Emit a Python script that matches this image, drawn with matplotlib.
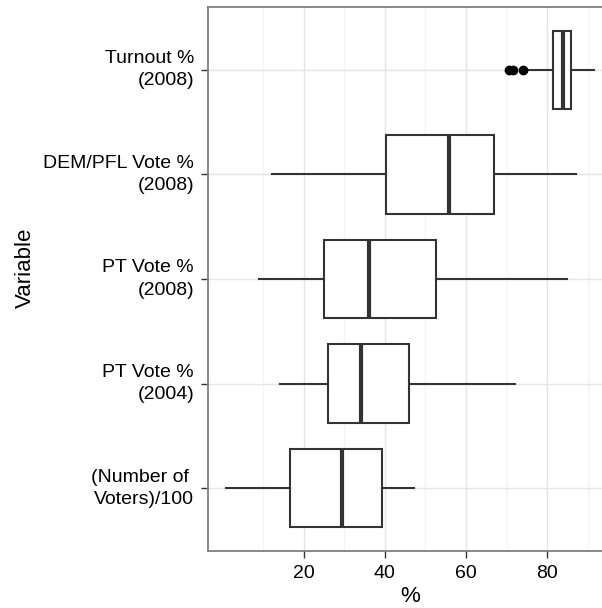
import matplotlib
matplotlib.use("Agg")
import matplotlib.pyplot as plt

categories = ["(Number of \nVoters)/100", "PT Vote %\n(2004)", "PT Vote %\n(2008)",
              "DEM/PFL Vote %\n(2008)", "Turnout %\n(2008)"]
q1 = [16.5, 26.0, 25.0, 40.2, 81.4]
med = [29.5, 34.0, 36.0, 55.7, 83.8]
q3 = [39.3, 45.9, 52.7, 66.8, 85.9]
whislo = [0.9, 14.1, 8.9, 12.1, 75.1]
whishi = [47.2, 72.1, 84.8, 87.2, 91.5]
fliers = [[], [], [], [], [70.7, 71.7, 74.1]]
xticks = [20, 40, 60, 80]

plt.rcParams['font.family'] = ['Liberation Sans', 'DejaVu Sans']

fig = plt.figure(figsize=(6.02, 6.08), dpi=100)
W, H = 602, 608
ax = fig.add_axes([208 / W, 1 - 551 / H, (612 - 208) / W, (551 - 7) / H])

stats = []
for i in range(len(categories)):
    stats.append(dict(q1=q1[i], med=med[i], q3=q3[i], whislo=whislo[i],
                      whishi=whishi[i], fliers=fliers[i], label=categories[i]))

dark = "#333333"
ax.bxp(stats, positions=range(1, 6), vert=False, widths=0.75, showcaps=False,
       patch_artist=True,
       boxprops=dict(facecolor="white", edgecolor=dark, linewidth=1.5),
       medianprops=dict(color=dark, linewidth=3.0, solid_capstyle="butt"),
       whiskerprops=dict(color=dark, linewidth=1.5),
       flierprops=dict(marker="o", markerfacecolor="black", markeredgecolor="black",
                       markersize=6),
       zorder=3)

ax.set_xlim(-3.6, 96.0)
ax.set_ylim(0.4, 5.6)
ax.set_xticks(xticks)
ax.set_xticks([10, 30, 50, 70, 90], minor=True)
ax.set_yticks(range(1, 6))
ax.set_yticklabels(categories, ha="right", va="center", linespacing=1.4)
ax.tick_params(axis="both", which="major", labelsize=14, length=5, width=1.0,
               color=dark, labelcolor="black", pad=5)
ax.tick_params(axis="x", which="minor", length=0)
ax.grid(True, which="major", color="#e5e5e5", linewidth=1.0, zorder=0)
ax.grid(True, which="minor", axis="x", color="#f5f5f5", linewidth=1.0, zorder=0)
ax.set_axisbelow(True)
for s in ax.spines.values():
    s.set_color("#7f7f7f")
    s.set_linewidth(1.3)

fig.text(410 / W, 1 - 596 / H, "%", ha="center", va="center", fontsize=16)
fig.text(25 / W, 1 - 268 / H, "Variable", ha="center", va="center", fontsize=16,
         rotation=90)

fig.savefig("out.png", dpi=100)
